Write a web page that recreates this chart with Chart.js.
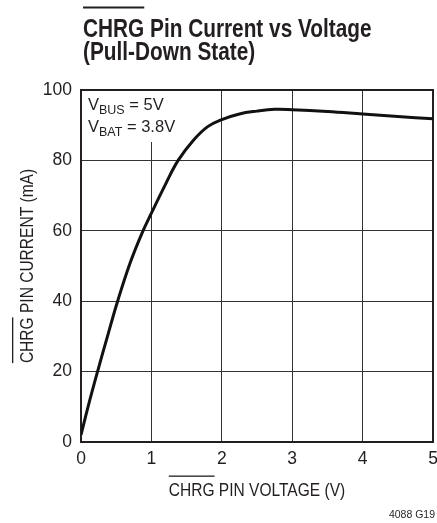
<!DOCTYPE html>
<html>
<head>
<meta charset="utf-8">
<script src="https://cdn.jsdelivr.net/npm/chart.js@4.4.1/dist/chart.umd.min.js"></script>
<style>
  html, body { margin: 0; padding: 0; background: #fff; }
  #wrap { width: 437px; height: 523px; }
</style>
</head>
<body>
<div id="wrap"><canvas id="chrgChart" width="437" height="523"></canvas></div>
<script>
// values (V, mA)
const voltage = [0, 0.1, 0.235, 0.38, 0.52, 0.7, 0.87, 1.0, 1.2, 1.38, 1.6, 1.8, 2.0, 2.25, 2.5, 2.75, 3.0, 3.5, 4.0, 4.5, 5.0];
const current = [2, 10, 20, 30.3, 40, 51, 59.5, 65, 73.2, 80, 85.8, 89.6, 91.6, 93.2, 94.0, 94.5, 94.4, 93.9, 93.2, 92.5, 91.8];
const xTicks = [0, 1, 2, 3, 4, 5];
const yTicks = [0, 20, 40, 60, 80, 100];

const SANS = "'Liberation Sans', Arial, sans-serif";
const INK = "#231f20";

// text squeezed horizontally, optional bar over the first word
function drawText(ctx, text, x, y, o) {
  ctx.save();
  ctx.translate(x, y);
  ctx.scale(o.sx || 1, 1);
  ctx.font = o.font;
  ctx.textAlign = o.align || "left";
  ctx.fillText(text, 0, 0);
  if (o.bar) {
    const full = ctx.measureText(text).width;
    const left = ctx.textAlign === "center" ? -full / 2 : 0;
    ctx.fillRect(left, o.barDy, ctx.measureText(o.bar).width, o.barW);
  }
  const w = ctx.measureText(text).width * (o.sx || 1);
  ctx.restore();
  return w;
}

const textPlugin = {
  id: "chrgText",
  beforeDatasetsDraw(chart) {
    const { ctx, chartArea: a } = chart;
    ctx.save();
    // conditions box hides the grid under it
    ctx.fillStyle = "#fff";
    ctx.fillRect(a.left + 1, a.top + 1, 103, 51);
    ctx.strokeStyle = INK;
    ctx.lineWidth = 2;
    ctx.strokeRect(a.left, a.top, a.right - a.left, a.bottom - a.top);
    ctx.restore();
  },
  afterDraw(chart) {
    const { ctx, chartArea: a } = chart;
    ctx.save();
    ctx.fillStyle = INK;
    ctx.textBaseline = "alphabetic";

    // title
    drawText(ctx, "CHRG Pin Current vs Voltage", 83, 37,
      { font: "bold 26.5px " + SANS, sx: 0.785, bar: "CHRG", barDy: -30.5, barW: 2 });
    drawText(ctx, "(Pull-Down State)", 83, 60, { font: "bold 26.5px " + SANS, sx: 0.785 });

    // x axis title
    drawText(ctx, "CHRG PIN VOLTAGE (V)", (a.left + a.right) / 2, 496,
      { font: "18.5px " + SANS, sx: 0.84, align: "center", bar: "CHRG", barDy: -20.5, barW: 1.3 });

    // y axis title
    ctx.save();
    ctx.translate(32.5, (a.top + a.bottom) / 2);
    ctx.rotate(-Math.PI / 2);
    drawText(ctx, "CHRG PIN CURRENT (mA)", 0, 0,
      { font: "18.5px " + SANS, sx: 0.84, align: "center", bar: "CHRG", barDy: -20.5, barW: 1.3 });
    ctx.restore();

    // conditions
    const cond = [["BUS", " = 5V", 110], ["BAT", " = 3.8V", 131.5]];
    cond.forEach(([sub, rest, y]) => {
      let x = 88;
      x += drawText(ctx, "V", x, y, { font: "16.5px " + SANS });
      x += drawText(ctx, sub, x, y + 4, { font: "12.5px " + SANS });
      drawText(ctx, rest, x, y, { font: "16.5px " + SANS });
    });

    // figure code
    drawText(ctx, "4088 G19", 435, 518, { font: "10.5px " + SANS, align: "right" });
    ctx.restore();
  }
};

const ctx = document.getElementById("chrgChart").getContext("2d");
new Chart(ctx, {
  type: "line",
  data: {
    datasets: [{
      data: voltage.map((v, i) => ({ x: v, y: current[i] })),
      borderColor: "#111",
      borderWidth: 3,
      pointRadius: 0,
      tension: 0.4,
      fill: false
    }]
  },
  options: {
    responsive: false,
    devicePixelRatio: 1,
    animation: false,
    layout: { padding: { top: 90, right: 4, bottom: 0, left: 0 } },
    plugins: { legend: { display: false }, tooltip: { enabled: false } },
    scales: {
      x: {
        type: "linear",
        min: xTicks[0],
        max: xTicks[xTicks.length - 1],
        afterBuildTicks: s => { s.ticks = xTicks.map(v => ({ value: v })); },
        afterFit: s => { s.height = 81; s.paddingLeft = 0; s.paddingRight = 0; },
        grid: { color: "#333", lineWidth: 1, drawTicks: false },
        border: { display: false },
        ticks: { color: INK, padding: 7, font: { family: SANS, size: 17.5 } }
      },
      y: {
        min: yTicks[0],
        max: yTicks[yTicks.length - 1],
        afterBuildTicks: s => { s.ticks = yTicks.map(v => ({ value: v })); },
        afterFit: s => { s.width = 81; },
        grid: { color: "#333", lineWidth: 1, drawTicks: false },
        border: { display: false },
        ticks: { color: INK, padding: 9, font: { family: SANS, size: 17.5 } }
      }
    }
  },
  plugins: [textPlugin]
});
</script>
</body>
</html>
